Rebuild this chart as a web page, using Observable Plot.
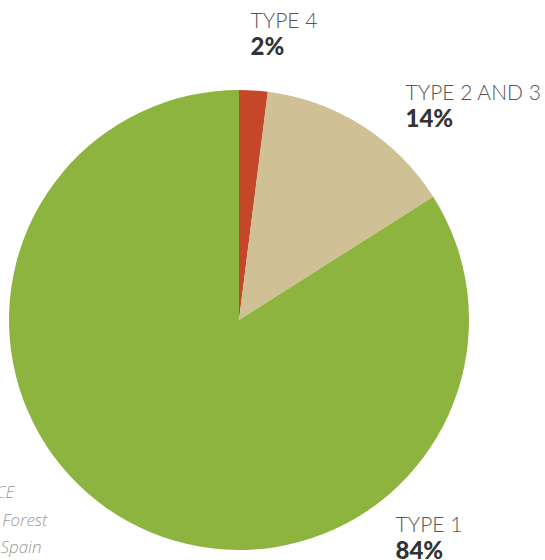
<!DOCTYPE html>
<html><head><meta charset="utf-8">
<script src="https://cdn.jsdelivr.net/npm/d3@7"></script>
<script src="https://cdn.jsdelivr.net/npm/@observablehq/plot@0.6"></script>
<style>
html,body{margin:0;padding:0;background:#fff;overflow:hidden}
svg{overflow:hidden}
</style>
</head><body>
<div id="chart"></div>
<script>
const categories = ["TYPE 4", "TYPE 2 AND 3", "TYPE 1"];
const shares = [2, 14, 84];
const percentLabels = ["2%", "14%", "84%"];
const colors = ["#c4472a", "#d0c096", "#8db43e"];
const sourceLines = ["SOURCE", "Forest", "Spain"];

const data = categories.map((c, i) => ({category: c, share: shares[i], label: percentLabels[i]}));

const W = 545, H = 560;
const xs = d3.scaleLinear().domain([-1, 1]).range([9, 469]);
const ys = d3.scaleLinear().domain([-1, 1]).range([550, 90]);
const px = v => xs.invert(v), py = v => ys.invert(v);

function pieMark(rows) {
  return (index, scales, values, dims, context) => {
    const x = scales.x, y = scales.y;
    const cx = x(0), cy = y(0), r = x(1) - x(0);
    const pie = d3.pie().sort(null).value(d => d.share)(rows);
    const arc = d3.arc().innerRadius(0).outerRadius(r);
    const g = d3.create("svg:g").attr("transform", `translate(${cx},${cy})`);
    g.selectAll("path").data(pie).join("path")
      .attr("d", arc)
      .attr("fill", d => colors[categories.indexOf(d.data.category)]);
    return g.node();
  };
}

// label anchor positions (start x, baseline y) per slice
const labelPos = [
  {x: px(250), y1: py(28), y2: py(55)},
  {x: px(405), y1: py(100), y2: py(127)},
  {x: px(395), y1: py(532), y2: py(559)}
];
const labelRows = data.map((d, i) => ({...d, lx: labelPos[i].x, ly1: labelPos[i].y1, ly2: labelPos[i].y2}));
const srcRows = sourceLines.map((t, i) => ({t, x: px([14, 47, 41][i]), y: py([497, 525, 552][i])}));

const chart = Plot.plot({
  width: W, height: H,
  margin: 0,
  x: {domain: [-1, 1], range: [9, 469], axis: null},
  y: {domain: [-1, 1], range: [550, 90], axis: null},
  style: {background: "#fff"},
  marks: [
    pieMark(data),
    Plot.text(labelRows, {x: "lx", y: "ly1", text: "category", textAnchor: "start", lineAnchor: "bottom",
      fontSize: 21, fontWeight: 300, fill: "#555", fontFamily: "Lato", dy: -1, letterSpacing: "-0.3px"}),
    Plot.text(labelRows, {x: "lx", y: "ly2", text: "label", textAnchor: "start", lineAnchor: "bottom",
      fontSize: 24, fontWeight: 900, fill: "#333", fontFamily: "Lato", dy: -1}),
    Plot.text(srcRows, {x: "x", y: "y", text: "t", textAnchor: "end", lineAnchor: "bottom",
      fontSize: 17, fontStyle: "italic", fontWeight: 300, fill: "#999", fontFamily: "Open Sans", dy: 0})
  ]
});
document.getElementById("chart").appendChild(chart);
</script>
</body></html>
